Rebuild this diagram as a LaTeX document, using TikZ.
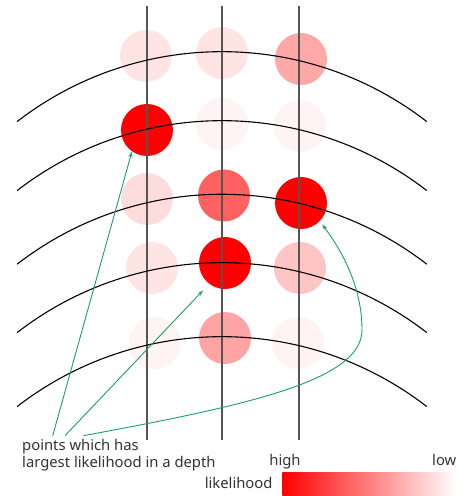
\documentclass[tikz,border=0pt]{standalone}
\usepackage{fontspec}
\setmainfont{Noto Sans}
\usetikzlibrary{arrows.meta,calc}
\definecolor{txt}{HTML}{333333}
\definecolor{vline}{HTML}{555555}
\definecolor{grn}{HTML}{1A9E77}
\definecolor{p1}{HTML}{FFE4E4}
\definecolor{p2}{HTML}{FFA8A8}
\definecolor{p3}{HTML}{FFF3F3}
\definecolor{p4}{HTML}{FFDCDC}
\definecolor{p5}{HTML}{FF6060}
\definecolor{p6}{HTML}{FFC4C4}
\definecolor{p7}{HTML}{FFA4A4}
\tikzset{
  dot/.style={circle,minimum size=52pt,inner sep=0pt,draw=none},
  vl/.style={draw=vline,line width=1.3pt},
  depth/.style={draw=black,line width=1.1pt},
  pointer/.style={draw=grn,line width=0.9pt,-{Stealth[length=6pt,width=4pt]}},
  lbl/.style={text=txt,font=\fontsize{14.8}{17.5}\selectfont,inner sep=0pt}
}
\begin{document}
\begin{tikzpicture}[x=1pt,y=1pt]
\useasboundingbox (0,0) rectangle (461,496);
% circles
\node[dot,fill=p1] (c11) at (146,440) {};
\node[dot,fill=p1] (c12) at (222,443) {};
\node[dot,fill=p2] (c13) at (301,437) {};
\node[dot,fill=red] (c21) at (147,366) {};
\node[dot,fill=p3] (c22) at (222,372) {};
\node[dot,fill=p3] (c23) at (300,370) {};
\node[dot,fill=p4] (c31) at (147,297) {};
\node[dot,fill=p5] (c32) at (224,300.5) {};
\node[dot,fill=red] (c33) at (301,293) {};
\node[dot,fill=p1] (c41) at (152,228) {};
\node[dot,fill=red] (c42) at (225,233) {};
\node[dot,fill=p6] (c43) at (300,228) {};
\node[dot,fill=p3] (c51) at (155,153) {};
\node[dot,fill=p7] (c52) at (225,158) {};
\node[dot,fill=p3] (c53) at (298,153) {};
% vertical lines
\foreach \x in {147,222,299} \draw[vl] (\x,490) -- (\x,56);
% depth arcs
\foreach \a in {444.3,375.3,301.7,233.3,159.3}
  \draw[depth] (17.1,\a-69.9) arc[start angle=127.7,end angle=52.3,radius=335pt];
% labels
\node[lbl,anchor=base west] (txt1) at (22,45.3) {points which has};
\node[lbl,anchor=base west] (txt2) at (22,28) {largest likelihood in a depth};
\node[lbl,anchor=base] (high) at (285,30.3) {high};
\node[lbl,anchor=base] (low) at (444.3,30.3) {low};
\node[lbl,anchor=base east] (lk) at (272.7,8) {likelihood};
\shade[left color=red,right color=white] (282.3,0) rectangle (456,23.7);
% pointers
\coordinate (s1) at (52.7,60.3);
\coordinate (s2) at (65,60.3);
\coordinate (s3) at (83.3,60.3);
\coordinate (m3) at (362,166);
\draw[pointer] (s1) -- (c21.235);
\draw[pointer,shorten >=9pt] (s2) -- (c42.233);
\draw[pointer,shorten >=4pt] (s3) .. controls (250,91) and (362,116) .. (m3)
   .. controls (362,206) and (345,241) .. (c33.-44);
\end{tikzpicture}
\end{document}
